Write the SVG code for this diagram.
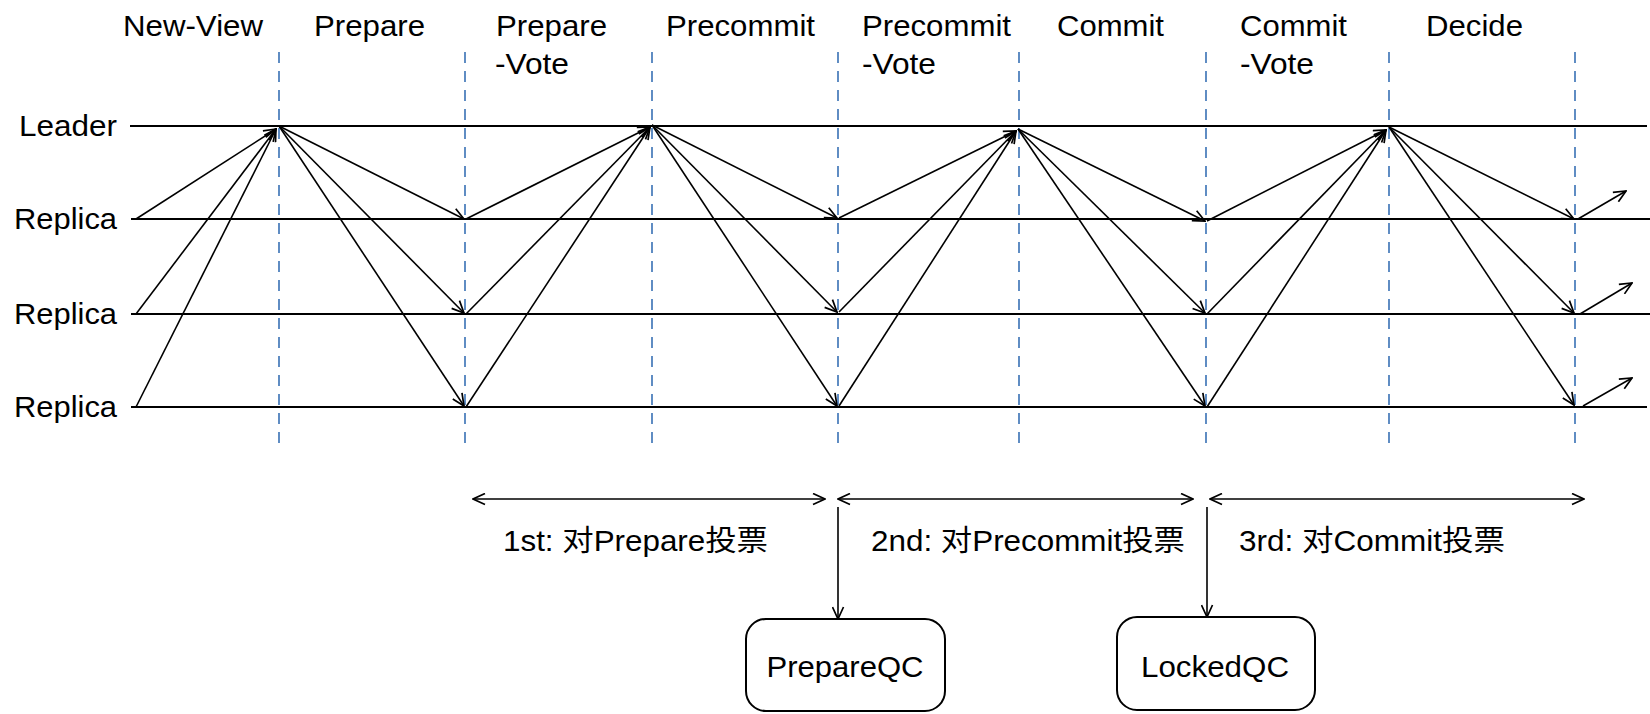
<svg xmlns="http://www.w3.org/2000/svg" width="1650" height="714" viewBox="0 0 1650 714">
<defs>
<marker id="ah" viewBox="0 0 14 13" refX="13" refY="6.5" markerWidth="14" markerHeight="13" markerUnits="userSpaceOnUse" orient="auto-start-reverse">
<path d="M1,1 L13,6.5 L1,12" fill="none" stroke="#000" stroke-width="1.7"/>
</marker>
<style>
text{font-family:"Liberation Sans","Noto Sans CJK SC",Arial,sans-serif;font-size:29px;fill:#000}
.lane{stroke:#000;stroke-width:2;fill:none}
.dash{stroke:#4f81bd;stroke-width:1.8;stroke-dasharray:11,8;fill:none}
.msg{stroke:#000;stroke-width:1.6;fill:none;marker-end:url(#ah)}
.span{stroke:#000;stroke-width:1.6;fill:none;marker-start:url(#ah);marker-end:url(#ah)}
.box{fill:#fff;stroke:#000;stroke-width:2}
</style>
</defs>
<rect width="1650" height="714" fill="#fff"/>
<g id="phases">
<text x="123" y="36" textLength="140" lengthAdjust="spacingAndGlyphs">New-View</text>
<text x="314" y="36" textLength="111" lengthAdjust="spacingAndGlyphs">Prepare</text>
<text x="496" y="36" textLength="111" lengthAdjust="spacingAndGlyphs">Prepare</text>
<text x="495" y="74" textLength="74" lengthAdjust="spacingAndGlyphs">-Vote</text>
<text x="666" y="36" textLength="149" lengthAdjust="spacingAndGlyphs">Precommit</text>
<text x="862" y="36" textLength="149" lengthAdjust="spacingAndGlyphs">Precommit</text>
<text x="862" y="74" textLength="74" lengthAdjust="spacingAndGlyphs">-Vote</text>
<text x="1057" y="36" textLength="107" lengthAdjust="spacingAndGlyphs">Commit</text>
<text x="1240" y="36" textLength="107" lengthAdjust="spacingAndGlyphs">Commit</text>
<text x="1240" y="74" textLength="74" lengthAdjust="spacingAndGlyphs">-Vote</text>
<text x="1426" y="36" textLength="97" lengthAdjust="spacingAndGlyphs">Decide</text>
</g>
<g id="lanes">
<text x="117" y="136" text-anchor="end" textLength="98" lengthAdjust="spacingAndGlyphs">Leader</text>
<text x="117" y="229" text-anchor="end" textLength="103" lengthAdjust="spacingAndGlyphs">Replica</text>
<text x="117" y="324" text-anchor="end" textLength="103" lengthAdjust="spacingAndGlyphs">Replica</text>
<text x="117" y="417" text-anchor="end" textLength="103" lengthAdjust="spacingAndGlyphs">Replica</text>
<line class="lane" x1="130" y1="126" x2="1647" y2="126"/>
<line class="lane" x1="131" y1="219" x2="1650" y2="219"/>
<line class="lane" x1="131" y1="314" x2="1650" y2="314"/>
<line class="lane" x1="131" y1="407" x2="1647" y2="407"/>
</g>
<g id="dividers">
<line class="dash" x1="279" y1="52" x2="279" y2="448"/>
<line class="dash" x1="465" y1="52" x2="465" y2="448"/>
<line class="dash" x1="652" y1="52" x2="652" y2="448"/>
<line class="dash" x1="838" y1="52" x2="838" y2="448"/>
<line class="dash" x1="1019" y1="52" x2="1019" y2="448"/>
<line class="dash" x1="1206" y1="52" x2="1206" y2="448"/>
<line class="dash" x1="1389" y1="52" x2="1389" y2="448"/>
<line class="dash" x1="1575" y1="52" x2="1575" y2="448"/>
</g>
<g id="connectors">
<line class="msg" x1="136" y1="219" x2="276" y2="129"/>
<line class="msg" x1="136" y1="314" x2="276" y2="129"/>
<line class="msg" x1="136" y1="407" x2="276" y2="129"/>
<line class="msg" x1="279" y1="126" x2="464" y2="219"/>
<line class="msg" x1="279" y1="126" x2="464" y2="313"/>
<line class="msg" x1="279" y1="126" x2="464" y2="406"/>
<line class="msg" x1="466" y1="219" x2="650" y2="127"/>
<line class="msg" x1="466" y1="314" x2="650" y2="127"/>
<line class="msg" x1="466" y1="407" x2="650" y2="127"/>
<line class="msg" x1="652" y1="125" x2="837" y2="218"/>
<line class="msg" x1="652" y1="125" x2="837" y2="312"/>
<line class="msg" x1="652" y1="125" x2="837" y2="406"/>
<line class="msg" x1="839" y1="218" x2="1016" y2="131"/>
<line class="msg" x1="839" y1="312" x2="1016" y2="131"/>
<line class="msg" x1="839" y1="406" x2="1016" y2="131"/>
<line class="msg" x1="1018" y1="129" x2="1205" y2="221"/>
<line class="msg" x1="1018" y1="129" x2="1205" y2="313"/>
<line class="msg" x1="1018" y1="129" x2="1205" y2="406"/>
<line class="msg" x1="1207" y1="221" x2="1386" y2="130"/>
<line class="msg" x1="1207" y1="314" x2="1386" y2="130"/>
<line class="msg" x1="1207" y1="407" x2="1386" y2="130"/>
<line class="msg" x1="1389" y1="127" x2="1574" y2="219"/>
<line class="msg" x1="1389" y1="127" x2="1574" y2="313"/>
<line class="msg" x1="1389" y1="127" x2="1574" y2="405"/>
<line class="msg" x1="1578" y1="219" x2="1626" y2="191"/>
<line class="msg" x1="1580" y1="314" x2="1632" y2="283"/>
<line class="msg" x1="1583" y1="406" x2="1632" y2="378"/>
<line class="span" x1="473" y1="499" x2="825" y2="499"/>
<line class="span" x1="838" y1="499" x2="1193" y2="499"/>
<line class="span" x1="1210" y1="499" x2="1584" y2="499"/>
<line class="msg" x1="838" y1="507" x2="838" y2="619"/>
<line class="msg" x1="1207" y1="507" x2="1207" y2="617"/>
</g>
<g id="spans">
<text x="503" y="551" textLength="265" lengthAdjust="spacingAndGlyphs">1st: 对Prepare投票</text>
<text x="871" y="551" textLength="314" lengthAdjust="spacingAndGlyphs">2nd: 对Precommit投票</text>
<text x="1239" y="551" textLength="266" lengthAdjust="spacingAndGlyphs">3rd: 对Commit投票</text>
</g>
<g id="prepareqc">
<rect class="box" x="746" y="619" width="199" height="92" rx="20"/>
<text x="845" y="677" text-anchor="middle" textLength="157" lengthAdjust="spacingAndGlyphs">PrepareQC</text>
</g>
<g id="lockedqc">
<rect class="box" x="1117" y="617" width="198" height="93" rx="20"/>
<text x="1215" y="677" text-anchor="middle" textLength="148" lengthAdjust="spacingAndGlyphs">LockedQC</text>
</g>
</svg>
